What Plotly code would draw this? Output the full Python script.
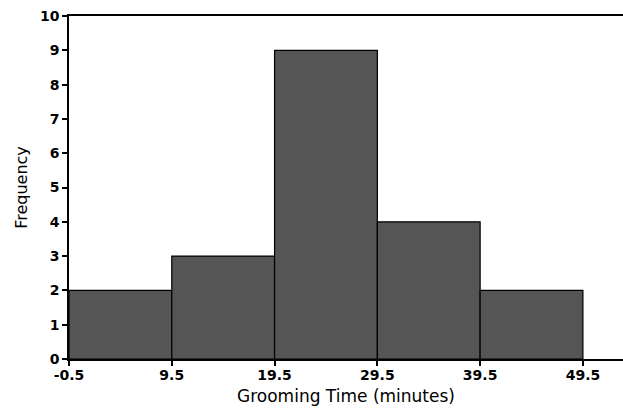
import plotly.graph_objects as go

bin_edges = [-0.5, 9.5, 19.5, 29.5, 39.5, 49.5]
frequencies = [2, 3, 9, 4, 2]
x_tick_labels = ["-0.5", "9.5", "19.5", "29.5", "39.5", "49.5"]

centers = [(bin_edges[i] + bin_edges[i + 1]) / 2 for i in range(len(frequencies))]
widths = [bin_edges[i + 1] - bin_edges[i] for i in range(len(frequencies))]

fig = go.Figure(
    go.Bar(
        x=centers,
        y=frequencies,
        width=widths,
        marker=dict(color="#555555", line=dict(color="black", width=1.2)),
    )
)

fig.update_layout(
    width=623,
    height=413,
    margin=dict(l=69, r=0, t=16, b=54, autoexpand=False),
    plot_bgcolor="white",
    paper_bgcolor="white",
    showlegend=False,
    font=dict(family="DejaVu Sans", color="black"),
)

fig.update_xaxes(
    range=[-0.5, 53.4],
    tickvals=bin_edges,
    ticktext=x_tick_labels,
    ticks="outside",
    ticklen=5,
    tickwidth=1.5,
    tickcolor="black",
    ticklabelstandoff=-3,
    showline=True,
    linecolor="black",
    linewidth=1.5,
    mirror=True,
    showgrid=False,
    zeroline=False,
    tickfont=dict(family="DejaVu Sans", size=14, weight="bold"),
    title=dict(text="Grooming Time (minutes)", font=dict(size=17), standoff=9),
)

fig.update_yaxes(
    range=[0, 10],
    dtick=1,
    ticks="outside",
    ticklen=5,
    tickwidth=1.5,
    tickcolor="black",
    showline=True,
    linecolor="black",
    linewidth=1.5,
    showgrid=False,
    zeroline=False,
    tickfont=dict(family="DejaVu Sans", size=14, weight="bold"),
    title=dict(text="Frequency", font=dict(size=16), standoff=8),
)

fig.write_html(
    "out.html",
    config={"displayModeBar": False},
    post_script="document.body.style.margin='0';document.body.style.overflow='hidden';",
)
